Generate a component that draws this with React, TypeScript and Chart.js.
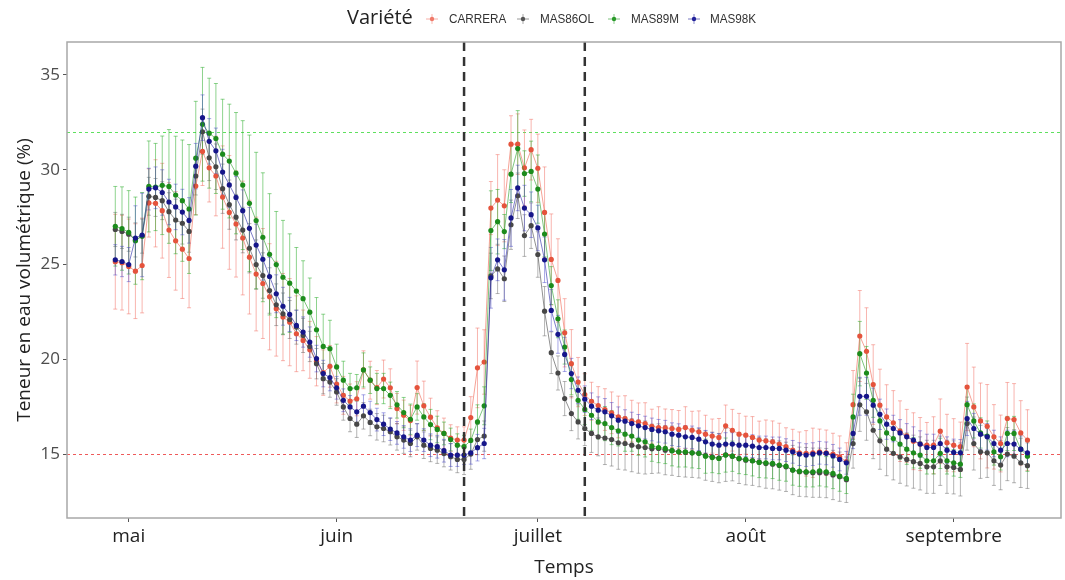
import React, { useEffect, useRef } from 'react';
import { Chart, registerables } from 'chart.js';

Chart.register(...registerables);

// x values are days counted from 1 May (first measurement on 29 April)
const firstDay = -2;
const monthLabels = ['mai', 'juin', 'juillet', 'août', 'septembre'];
const monthDays = [0, 31, 61, 92, 123];
const yTicks = [15, 20, 25, 30, 35];
const greenRefY = 32;
const redRefY = 15;
const phaseDays = [50.0, 68.0];
const varieties = ['CARRERA', 'MAS86OL', 'MAS89M', 'MAS98K'];

const carrera = [
  25.15, 25.1, 24.9, 24.65, 24.95, 28.25, 28.23, 27.84, 26.82, 26.25, 25.81, 25.32, 29.14, 30.97, 30.1, 29.67, 28.56, 27.75, 27.14, 26.4,
  25.39, 24.5, 24.0, 23.3, 22.67, 22.23, 21.96, 21.35, 21.0, 20.5, 19.9, 19.3, 19.63, 18.7, 18.1, 17.8, 17.92, 19.45, 18.9, 18.51,
  18.96, 18.5, 17.4, 17.05, 16.77, 18.51, 17.55, 16.95, 16.39, 16.1, 15.85, 15.74, 15.74, 16.93, 19.55, 19.86, 27.98, 28.4, 28.1, 31.35,
  31.35, 30.1, 31.06, 30.08, 27.75, 25.27, 24.16, 21.4, 19.77, 18.8, 18.14, 17.79, 17.56, 17.35, 17.18, 16.96, 16.88, 16.74, 16.7, 16.61,
  16.47, 16.4, 16.38, 16.35, 16.3, 16.4, 16.26, 16.18, 16.05, 15.95, 15.88, 16.49, 16.26, 16.05, 16.0, 15.88, 15.74, 15.7, 15.65, 15.53,
  15.39, 15.21, 15.07, 15.04, 15.07, 15.12, 15.07, 15.0, 14.86, 14.6, 17.61, 21.23, 20.42, 18.67, 17.58, 16.96, 16.65, 16.21, 15.96, 15.68,
  15.53, 15.47, 15.47, 16.21, 15.6, 15.47, 15.39, 18.54, 17.49, 16.75, 16.47, 15.91, 15.56, 16.88, 16.82, 16.12, 15.74,
];
const mas86ol = [
  26.85, 26.75, 26.6, 26.3, 26.5, 28.6, 28.54, 28.37, 27.79, 27.35, 27.18, 26.75, 29.67, 32.0, 30.63, 30.16, 29.0, 28.16, 27.5, 26.82,
  25.86, 25.0, 24.42, 23.63, 22.88, 22.4, 22.1, 21.7, 21.26, 20.68, 19.77, 18.98, 18.8, 18.28, 17.49, 16.88, 16.58, 17.02, 16.67, 16.44,
  16.35, 16.18, 15.91, 15.74, 15.56, 15.91, 15.47, 15.3, 15.21, 15.03, 14.86, 14.72, 14.72, 15.0, 15.77, 15.95, 24.4, 24.77, 24.25, 27.1,
  28.63, 26.53, 27.05, 25.53, 22.54, 20.35, 19.28, 17.93, 17.14, 16.7, 16.35, 16.09, 15.91, 15.85, 15.77, 15.6, 15.56, 15.47, 15.39, 15.35,
  15.28, 15.3, 15.21, 15.18, 15.12, 15.09, 15.07, 15.04, 14.92, 14.86, 14.79, 14.96, 14.89, 14.75, 14.68, 14.65, 14.58, 14.5, 14.47, 14.4,
  14.33, 14.16, 14.07, 14.05, 14.02, 14.02, 14.0, 13.9, 13.81, 13.65, 15.56, 17.6, 17.23, 16.26, 15.7, 15.26, 15.04, 14.86, 14.72, 14.6,
  14.51, 14.33, 14.33, 14.65, 14.33, 14.3, 14.19, 16.61, 15.56, 15.12, 15.07, 14.65, 14.42, 15.0, 14.89, 14.54, 14.39,
];
const mas89m = [
  27.02, 26.9, 26.7, 26.26, 26.5, 29.12, 29.09, 29.18, 29.12, 28.67, 28.37, 27.93, 30.61, 32.4, 31.93, 31.65, 30.82, 30.46, 29.82, 29.19,
  28.23, 27.32, 26.44, 25.54, 25.0, 24.33, 24.02, 23.6, 23.2, 22.49, 21.56, 20.68, 20.56, 19.6, 18.9, 18.46, 18.5, 19.44, 18.9, 18.46,
  18.46, 18.1, 17.6, 17.19, 16.84, 17.49, 16.96, 16.56, 16.3, 16.09, 15.77, 15.47, 15.39, 15.72, 16.7, 17.55, 26.79, 27.26, 26.74, 29.77,
  31.12, 29.8, 29.91, 28.98, 26.61, 23.89, 22.14, 20.65, 18.93, 17.84, 17.36, 17.05, 16.7, 16.61, 16.4, 16.23, 16.05, 15.95, 15.74, 15.65,
  15.42, 15.35, 15.3, 15.18, 15.12, 15.12, 15.07, 15.04, 14.89, 14.82, 14.77, 14.95, 14.89, 14.77, 14.72, 14.65, 14.56, 14.54, 14.51, 14.42,
  14.37, 14.16, 14.1, 14.07, 14.07, 14.12, 14.07, 13.98, 13.84, 13.72, 16.96, 20.3, 19.28, 17.84, 16.75, 16.12, 15.82, 15.53, 15.26, 15.07,
  14.95, 14.65, 14.65, 15.04, 14.65, 14.54, 14.47, 17.61, 16.75, 16.12, 15.95, 15.12, 14.86, 16.09, 16.09, 15.26, 14.89,
];
const mas98k = [
  25.25, 25.16, 25.0, 26.4, 26.56, 28.98, 29.05, 28.8, 28.3, 28.04, 27.77, 27.33, 30.19, 32.75, 31.5, 31.0, 29.88, 29.2, 28.54, 27.84,
  26.91, 26.03, 25.28, 24.37, 23.46, 22.8, 22.37, 21.79, 21.44, 20.91, 20.04, 19.25, 19.04, 18.5, 17.84, 17.49, 17.23, 17.53, 17.19, 16.82,
  16.58, 16.32, 16.12, 15.91, 15.74, 16.0, 15.74, 15.47, 15.39, 15.18, 14.95, 14.95, 14.95, 15.07, 15.34, 15.56, 24.3, 25.25, 24.72, 27.46,
  29.04, 27.98, 27.63, 26.93, 25.25, 22.58, 21.32, 20.26, 19.25, 18.37, 17.9, 17.53, 17.32, 17.23, 17.02, 16.79, 16.74, 16.61, 16.49, 16.4,
  16.3, 16.23, 16.18, 16.05, 16.0, 15.91, 15.88, 15.79, 15.65, 15.53, 15.47, 15.53, 15.53, 15.47, 15.47, 15.42, 15.35, 15.35, 15.3, 15.3,
  15.21, 15.12, 15.0, 14.95, 15.0, 15.07, 15.04, 14.91, 14.72, 14.54, 16.09, 18.05, 18.05, 17.58, 17.1, 16.58, 16.35, 16.12, 15.91, 15.74,
  15.53, 15.35, 15.35, 15.56, 15.21, 15.09, 15.07, 16.88, 16.35, 16.05, 15.91, 15.56, 15.21, 15.56, 15.53, 15.26, 15.07,
];

const carreraErr = [
  2.5, 2.5, 2.5, 2.5, 2.5, 1.8, 2.3, 2.5, 2.5, 2.6, 2.6, 2.6, 1.5, 1.8, 1.8, 2.1, 2.7, 3.0, 2.8, 3.0,
  3.0, 3.0, 2.9, 2.8, 2.5, 2.3, 2.3, 2.0, 1.6, 1.5, 1.3, 1.2, 1.1, 1.0, 1.0, 0.9, 0.9, 1.0, 1.0, 0.9,
  1.0, 1.0, 0.8, 0.8, 0.8, 1.4, 1.3, 1.0, 0.9, 0.8, 0.7, 0.7, 0.7, 1.1, 2.1, 1.7, 1.4, 2.4, 1.9, 1.5,
  1.6, 2.0, 1.6, 1.8, 2.4, 2.4, 2.2, 1.8, 1.8, 1.3, 1.1, 1.0, 1.0, 1.1, 1.1, 1.1, 1.2, 1.1, 1.0, 1.1,
  0.9, 1.1, 1.0, 1.0, 1.0, 1.1, 1.0, 1.1, 1.0, 0.9, 1.0, 1.1, 1.1, 1.1, 1.0, 1.1, 1.0, 1.1, 1.1, 1.1,
  1.0, 1.1, 1.1, 1.2, 1.3, 1.2, 1.2, 1.1, 1.1, 1.0, 1.8, 2.4, 2.3, 2.1, 1.9, 1.7, 1.7, 1.6, 1.4, 1.5,
  1.4, 1.2, 1.5, 1.7, 1.5, 1.4, 1.3, 2.3, 2.1, 2.0, 2.2, 1.7, 1.5, 1.9, 1.9, 1.7, 1.6,
];
const mas86olErr = [
  0.9, 0.9, 0.9, 0.9, 0.9, 1.0, 1.0, 1.0, 1.0, 1.1, 1.1, 1.1, 1.0, 1.2, 1.2, 1.2, 1.3, 1.3, 1.2, 1.2,
  1.3, 1.3, 1.2, 1.2, 1.1, 1.1, 1.0, 0.9, 0.9, 0.8, 0.8, 0.8, 0.8, 0.7, 0.7, 0.7, 0.7, 0.7, 0.7, 0.7,
  0.7, 0.7, 0.7, 0.7, 0.7, 0.7, 0.7, 0.7, 0.7, 0.7, 0.7, 0.7, 0.8, 0.8, 0.8, 0.8, 1.2, 1.3, 1.2, 1.3,
  1.2, 1.1, 1.2, 1.2, 1.3, 1.1, 0.9, 0.9, 0.9, 0.9, 0.9, 1.0, 1.0, 1.4, 1.4, 1.4, 1.4, 1.4, 1.4, 1.4,
  1.3, 1.3, 1.3, 1.3, 1.3, 1.3, 1.3, 1.3, 1.3, 1.3, 1.3, 1.4, 1.3, 1.3, 1.3, 1.3, 1.3, 1.3, 1.3, 1.3,
  1.3, 1.3, 1.3, 1.3, 1.3, 1.3, 1.3, 1.3, 1.3, 1.2, 1.3, 1.4, 1.5, 1.5, 1.5, 1.4, 1.4, 1.4, 1.4, 1.4,
  1.4, 1.4, 1.4, 1.3, 1.4, 1.4, 1.4, 1.4, 1.4, 1.4, 1.3, 1.3, 1.3, 1.4, 1.4, 1.3, 1.2,
];
const mas89mErr = [
  2.1, 2.2, 2.2, 2.3, 2.3, 2.4, 2.3, 2.6, 3.0, 3.1, 3.2, 3.4, 3.0, 3.0, 2.9, 2.9, 2.9, 3.0, 3.2, 3.4,
  3.6, 3.6, 3.4, 3.2, 2.8, 3.0, 2.6, 2.3, 2.0, 1.8, 1.7, 1.7, 1.5, 1.2, 1.0, 0.8, 0.7, 0.9, 0.7, 0.8,
  0.8, 0.7, 0.7, 0.8, 0.8, 0.7, 0.7, 0.8, 0.7, 0.6, 0.6, 0.6, 0.6, 0.6, 0.9, 1.0, 2.1, 1.7, 0.9, 1.5,
  2.0, 1.2, 1.6, 1.8, 1.2, 1.0, 1.0, 0.9, 0.8, 1.0, 0.8, 0.8, 0.9, 0.9, 0.9, 0.8, 0.9, 0.8, 0.8, 0.8,
  0.8, 0.8, 0.8, 0.8, 0.8, 0.8, 0.8, 0.8, 0.9, 0.8, 0.8, 0.9, 0.8, 0.8, 0.8, 0.8, 0.8, 0.8, 0.8, 0.8,
  0.8, 0.8, 0.8, 0.8, 0.8, 0.8, 0.8, 0.8, 0.8, 0.8, 1.2, 1.7, 1.4, 0.9, 0.9, 0.8, 0.8, 0.8, 0.8, 0.8,
  0.7, 0.7, 0.7, 0.8, 0.7, 0.7, 0.7, 1.0, 0.9, 0.8, 0.8, 0.7, 0.7, 0.9, 0.9, 0.8, 0.8,
];
const mas98kErr = [
  0.8, 0.8, 0.9, 1.7, 2.2, 1.1, 1.1, 1.2, 1.2, 1.2, 1.2, 1.2, 1.2, 1.2, 1.2, 1.2, 1.2, 1.2, 1.1, 1.1,
  1.1, 1.1, 1.1, 1.0, 1.0, 1.0, 0.9, 0.8, 0.8, 0.8, 0.7, 0.7, 0.7, 0.6, 0.6, 0.6, 0.6, 0.6, 0.6, 0.6,
  0.6, 0.6, 0.6, 0.6, 0.6, 0.6, 0.6, 0.6, 0.6, 0.6, 0.6, 0.6, 0.5, 0.6, 0.7, 0.8, 1.6, 1.1, 1.6, 1.5,
  1.2, 1.2, 1.2, 1.2, 1.2, 1.1, 1.0, 0.9, 0.8, 0.7, 0.7, 0.7, 0.7, 0.7, 0.7, 0.7, 0.6, 0.6, 0.6, 0.6,
  0.6, 0.6, 0.6, 0.6, 0.6, 0.6, 0.6, 0.6, 0.6, 0.6, 0.6, 0.6, 0.6, 0.6, 0.6, 0.6, 0.6, 0.6, 0.6, 0.6,
  0.6, 0.6, 0.6, 0.6, 0.6, 0.6, 0.6, 0.6, 0.6, 0.6, 0.8, 1.0, 1.0, 0.9, 0.8, 0.8, 0.7, 0.7, 0.7, 0.7,
  0.7, 0.7, 0.7, 0.7, 0.7, 0.7, 0.7, 0.9, 0.8, 0.8, 0.7, 0.7, 0.7, 0.7, 0.7, 0.7, 0.7,
];

const seriesValues = [carrera, mas86ol, mas89m, mas98k];
const seriesErrors = [carreraErr, mas86olErr, mas89mErr, mas98kErr];

const pointColors = ['#e5533c', '#474747', '#1c8c1c', '#16168a'];
const lineColors = ['rgba(240,100,80,0.6)', 'rgba(70,70,70,0.6)', 'rgba(40,160,40,0.6)', 'rgba(40,40,170,0.6)'];
const errColors = ['rgba(242,120,110,0.55)', 'rgba(90,90,90,0.45)', 'rgba(50,175,50,0.55)', 'rgba(60,60,200,0.45)'];
const keyColors = ['#f07a6a', '#555555', '#2a9a2a', '#22229a'];

const FONT = "'Open Sans', 'DejaVu Sans', sans-serif";

const decorPlugin = {
  id: 'decor',
  beforeDatasetsDraw(chart: any) {
    const { ctx, chartArea: ca, scales } = chart;
    const xs = scales.x;
    const ys = scales.y;
    ctx.save();
    ctx.beginPath();
    ctx.rect(ca.left, ca.top, ca.right - ca.left, ca.bottom - ca.top);
    ctx.clip();
    ctx.lineWidth = 1;
    ctx.setLineDash([3, 3]);
    ctx.strokeStyle = '#5fe05f';
    let yy = Math.round(ys.getPixelForValue(greenRefY)) + 0.5;
    ctx.beginPath();
    ctx.moveTo(ca.left, yy);
    ctx.lineTo(ca.right, yy);
    ctx.stroke();
    ctx.strokeStyle = '#ee5a5a';
    yy = Math.round(ys.getPixelForValue(redRefY)) + 0.5;
    ctx.beginPath();
    ctx.moveTo(ca.left, yy);
    ctx.lineTo(ca.right, yy);
    ctx.stroke();
    ctx.setLineDash([]);
    chart.data.datasets.forEach((ds: any, di: number) => {
      const errs = seriesErrors[di];
      ctx.strokeStyle = errColors[di];
      ctx.lineWidth = 1;
      ds.data.forEach((p: any, i: number) => {
        const px = xs.getPixelForValue(p.x);
        const top = ys.getPixelForValue(p.y + errs[i]);
        const bot = ys.getPixelForValue(p.y - errs[i]);
        ctx.beginPath();
        ctx.moveTo(px, top);
        ctx.lineTo(px, bot);
        ctx.moveTo(px - 2, top);
        ctx.lineTo(px + 2, top);
        ctx.moveTo(px - 2, bot);
        ctx.lineTo(px + 2, bot);
        ctx.stroke();
      });
    });
    ctx.restore();
  },
  afterDatasetsDraw(chart: any) {
    const { ctx, chartArea: ca, scales } = chart;
    ctx.save();
    ctx.strokeStyle = '#333333';
    ctx.lineWidth = 2.5;
    ctx.setLineDash([9, 6]);
    phaseDays.forEach((d) => {
      const px = scales.x.getPixelForValue(d);
      ctx.beginPath();
      ctx.moveTo(px, ca.top);
      ctx.lineTo(px, ca.bottom);
      ctx.stroke();
    });
    ctx.restore();
  },
  afterDraw(chart: any) {
    const { ctx, chartArea: ca } = chart;
    ctx.save();
    ctx.strokeStyle = '#a8a8a8';
    ctx.lineWidth = 1.5;
    ctx.strokeRect(ca.left, ca.top, ca.right - ca.left, ca.bottom - ca.top);
    ctx.restore();
  },
};

function LegendKey({ color }: { color: string }) {
  return (
    <svg width="14" height="14" style={{ display: 'block' }}>
      <line x1="1" y1="7" x2="13" y2="7" stroke={color} strokeOpacity="0.6" strokeWidth="1" />
      <line x1="7" y1="2" x2="7" y2="12" stroke={color} strokeOpacity="0.5" strokeWidth="1" />
      <circle cx="7" cy="7" r="2.2" fill={color} />
    </svg>
  );
}

export default function App() {
  const canvasRef = useRef<HTMLCanvasElement | null>(null);

  useEffect(() => {
    if (!canvasRef.current) return;
    const datasets = varieties.map((name, di) => ({
      label: name,
      data: seriesValues[di].map((v, i) => ({ x: firstDay + i, y: v })),
      borderColor: lineColors[di],
      backgroundColor: pointColors[di],
      pointBackgroundColor: pointColors[di],
      pointBorderWidth: 0,
      pointRadius: 2.6,
      borderWidth: 1,
      tension: 0,
      order: 4 - di,
    }));
    const chart = new Chart(canvasRef.current, {
      type: 'line',
      data: { datasets },
      options: {
        animation: false,
        responsive: false,
        devicePixelRatio: 1,
        layout: { padding: { left: 0, right: 2, top: 42, bottom: 0 } },
        plugins: { legend: { display: false }, tooltip: { enabled: false } },
        scales: {
          x: {
            type: 'linear',
            min: -9.2,
            max: 139,
            afterBuildTicks: (s: any) => {
              s.ticks = monthDays.map((v) => ({ value: v }));
            },
            afterFit: (s: any) => {
              s.height = 62;
            },
            grid: { display: true, drawOnChartArea: false, drawTicks: true, tickLength: 4, color: '#555555' },
            border: { display: false },
            ticks: {
              autoSkip: false,
              maxRotation: 0,
              padding: 3,
              color: '#222222',
              font: { family: FONT, size: 19 },
              callback: (v: any) => {
                const k = monthDays.indexOf(Number(v));
                return k >= 0 ? monthLabels[k] : '';
              },
            },
            title: {
              display: true,
              text: 'Temps',
              color: '#222222',
              font: { family: FONT, size: 19 },
              padding: { top: 0, bottom: 1 },
            },
          },
          y: {
            type: 'linear',
            min: 11.63,
            max: 36.74,
            afterBuildTicks: (s: any) => {
              s.ticks = yTicks.map((v) => ({ value: v }));
            },
            afterFit: (s: any) => {
              s.width = 67;
            },
            grid: { display: true, drawOnChartArea: false, drawTicks: true, tickLength: 4, color: '#555555' },
            border: { display: false },
            ticks: {
              padding: 3,
              color: '#4d4d4d',
              font: { family: FONT, size: 17 },
              callback: (v: any) => String(v),
            },
            title: {
              display: true,
              text: 'Teneur en eau volumétrique (%)',
              color: '#222222',
              font: { family: FONT, size: 19 },
              padding: { top: 13, bottom: 0 },
            },
          },
        },
      },
      plugins: [decorPlugin],
    } as any);
    return () => chart.destroy();
  }, []);

  const legendItems = [
    { left: 425, labelLeft: 449 },
    { left: 516, labelLeft: 540 },
    { left: 607, labelLeft: 631 },
    { left: 687, labelLeft: 710 },
  ];

  return (
    <div style={{ position: 'absolute', left: 0, top: 0, width: 1065, height: 580, background: '#ffffff' }}>
      <canvas ref={canvasRef} width={1065} height={580} style={{ position: 'absolute', left: 0, top: 0 }} />
      <div
        style={{
          position: 'absolute',
          left: 347,
          top: 3,
          fontFamily: FONT,
          fontSize: 20,
          color: '#222222',
          lineHeight: '28px',
        }}
      >
        Variété
      </div>
      {varieties.map((name, di) => (
        <React.Fragment key={name}>
          <div style={{ position: 'absolute', left: legendItems[di].left, top: 12 }}>
            <LegendKey color={keyColors[di]} />
          </div>
          <div
            style={{
              position: 'absolute',
              left: legendItems[di].labelLeft,
              top: 10,
              fontFamily: "'Liberation Sans', Arial, sans-serif",
              fontSize: 13,
              color: '#333333',
              lineHeight: '18px',
              whiteSpace: 'nowrap',
              transform: 'scaleX(0.9)',
              transformOrigin: 'left center',
            }}
          >
            {name}
          </div>
        </React.Fragment>
      ))}
    </div>
  );
}
